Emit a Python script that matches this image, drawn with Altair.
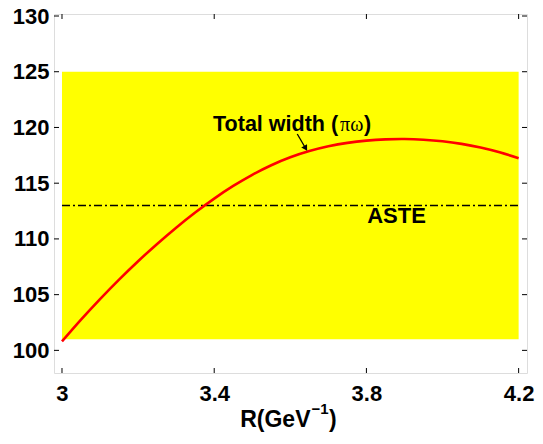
import altair as alt
import pandas as pd

# Data
r_vals = [3.00, 3.05, 3.10, 3.15, 3.20, 3.25, 3.30, 3.35, 3.40, 3.45, 3.50, 3.55, 3.60,
          3.65, 3.70, 3.75, 3.80, 3.85, 3.90, 3.95, 4.00, 4.05, 4.10, 4.15, 4.20]
width_vals = [100.8, 102.75, 104.6, 106.35, 108.0, 109.55, 111.01, 112.37, 113.62, 114.75,
              115.75, 116.61, 117.32, 117.88, 118.31, 118.62, 118.82, 118.93, 118.96, 118.9,
              118.76, 118.53, 118.2, 117.77, 117.24]
band_x = [3.0, 4.2]
band_y = [101.0, 125.0]
aste_value = 113.0
x_ticks = [3.0, 3.4, 3.8, 4.2]
y_ticks = [100, 105, 110, 115, 120, 125, 130]
x_domain = [2.979, 4.222]
y_domain = [97.97, 130.18]

W, H = 473, 359
FONT = "Liberation Sans"
FS = 22

curve_df = pd.DataFrame({"R": r_vals, "G": width_vals})
band_df = pd.DataFrame({"x1": [band_x[0]], "x2": [band_x[1]], "y1": [band_y[0]], "y2": [band_y[1]]})
aste_df = pd.DataFrame({"x1": [band_x[0]], "x2": [band_x[1]], "y": [aste_value]})
xt_df = pd.DataFrame({"t": x_ticks})
yt_df = pd.DataFrame({"t": y_ticks})

xs = alt.Scale(domain=x_domain, nice=False, zero=False)
ys = alt.Scale(domain=y_domain, nice=False, zero=False)

x_axis = alt.Axis(values=x_ticks, ticks=False, grid=False, domain=False, labelFont=FONT,
                  labelFontSize=FS, labelFontWeight="bold", labelColor="black", labelPadding=10,
                  labelExpr="format(datum.value, '.1~f')", title=None)
y_axis = alt.Axis(values=y_ticks, ticks=False, grid=False, domain=False, labelFont=FONT,
                  labelFontSize=FS, labelFontWeight="bold", labelColor="black", labelPadding=5,
                  title=None)

band = alt.Chart(band_df).mark_rect(color="#FFFF00").encode(
    x=alt.X("x1:Q", scale=xs, axis=x_axis), x2="x2:Q",
    y=alt.Y("y1:Q", scale=ys, axis=y_axis), y2="y2:Q")

aste = alt.Chart(aste_df).mark_rule(color="black", strokeWidth=1.6, strokeDash=[8, 3, 2, 3]).encode(
    x=alt.X("x1:Q", scale=xs), x2="x2:Q", y=alt.Y("y:Q", scale=ys))

curve = alt.Chart(curve_df).mark_line(color="#FF0000", strokeWidth=2.6, interpolate="natural").encode(
    x=alt.X("R:Q", scale=xs), y=alt.Y("G:Q", scale=ys))

# annotations
ann_df = pd.DataFrame({"x": [3.397], "y": [119.7]})
tw1 = alt.Chart(ann_df).mark_text(font=FONT, fontSize=21.5, fontWeight="bold", align="left",
                                  baseline="alphabetic", color="black", text="Total width (").encode(
    x=alt.X("x:Q", scale=xs), y=alt.Y("y:Q", scale=ys))
tw2 = alt.Chart(ann_df).mark_text(font="Liberation Serif", fontSize=20, align="left",
                                  baseline="alphabetic", color="black", text="πω", dx=127).encode(
    x=alt.X("x:Q", scale=xs), y=alt.Y("y:Q", scale=ys))
tw3 = alt.Chart(ann_df).mark_text(font=FONT, fontSize=21.5, fontWeight="bold", align="left",
                                  baseline="alphabetic", color="black", text=")", dx=151).encode(
    x=alt.X("x:Q", scale=xs), y=alt.Y("y:Q", scale=ys))

aste_lab_df = pd.DataFrame({"x": [3.879], "y": [112.05]})
aste_lab = alt.Chart(aste_lab_df).mark_text(font=FONT, fontSize=FS, fontWeight="bold",
                                            align="center", baseline="middle", color="black",
                                            text="ASTE").encode(
    x=alt.X("x:Q", scale=xs), y=alt.Y("y:Q", scale=ys))

arrow_df = pd.DataFrame({"x1": [3.6183], "y1": [119.41], "x2": [3.639], "y2": [118.2]})
arrow_line = alt.Chart(arrow_df).mark_rule(color="black", strokeWidth=1.3).encode(
    x=alt.X("x1:Q", scale=xs), y=alt.Y("y1:Q", scale=ys), x2="x2:Q", y2="y2:Q")
arrow_head = alt.Chart(arrow_df).mark_point(shape="triangle", filled=True, color="black",
                                            size=45, angle=149, opacity=1).encode(
    x=alt.X("x2:Q", scale=xs), y=alt.Y("y2:Q", scale=ys))

# x-axis title with a real superscript
title_main = alt.Chart(ann_df).mark_text(font=FONT, fontSize=23, fontWeight="bold", align="right",
                                         baseline="alphabetic", color="black", text="R(GeV").encode(
    x=alt.value(W / 2 + 20), y=alt.value(H + 54))
title_sup = alt.Chart(ann_df).mark_text(font=FONT, fontSize=15, fontWeight="bold", align="left",
                                        baseline="alphabetic", color="black", text="\u22121").encode(
    x=alt.value(W / 2 + 21), y=alt.value(H + 40.5))
title_close = alt.Chart(ann_df).mark_text(font=FONT, fontSize=23, fontWeight="bold", align="left",
                                          baseline="alphabetic", color="black", text=")").encode(
    x=alt.value(W / 2 + 38.5), y=alt.value(H + 54))

# inward ticks
tick_style = dict(color="black", strokeWidth=1)
xt_bottom = alt.Chart(xt_df).mark_rule(**tick_style).encode(
    x=alt.X("t:Q", scale=xs), y=alt.value(H), y2=alt.value(H - 5))
xt_top = alt.Chart(xt_df).mark_rule(**tick_style).encode(
    x=alt.X("t:Q", scale=xs), y=alt.value(0), y2=alt.value(5))
yt_left = alt.Chart(yt_df).mark_rule(**tick_style).encode(
    y=alt.Y("t:Q", scale=ys), x=alt.value(0), x2=alt.value(5))
yt_right = alt.Chart(yt_df).mark_rule(**tick_style).encode(
    y=alt.Y("t:Q", scale=ys), x=alt.value(W), x2=alt.value(W - 5))

chart = alt.layer(band, aste, curve, arrow_line, arrow_head, tw1, tw2, tw3, aste_lab,
                  title_main, title_sup, title_close,
                  xt_bottom, xt_top, yt_left, yt_right).properties(
    width=W, height=H,
    autosize=alt.AutoSizeParams(type="none"),
    padding={"left": 46, "top": 6, "right": 8, "bottom": 62},
).configure_view(stroke="black", strokeWidth=1.6).configure(background="white")

chart.save("out.html", embed_options={"renderer": "svg", "actions": False})
